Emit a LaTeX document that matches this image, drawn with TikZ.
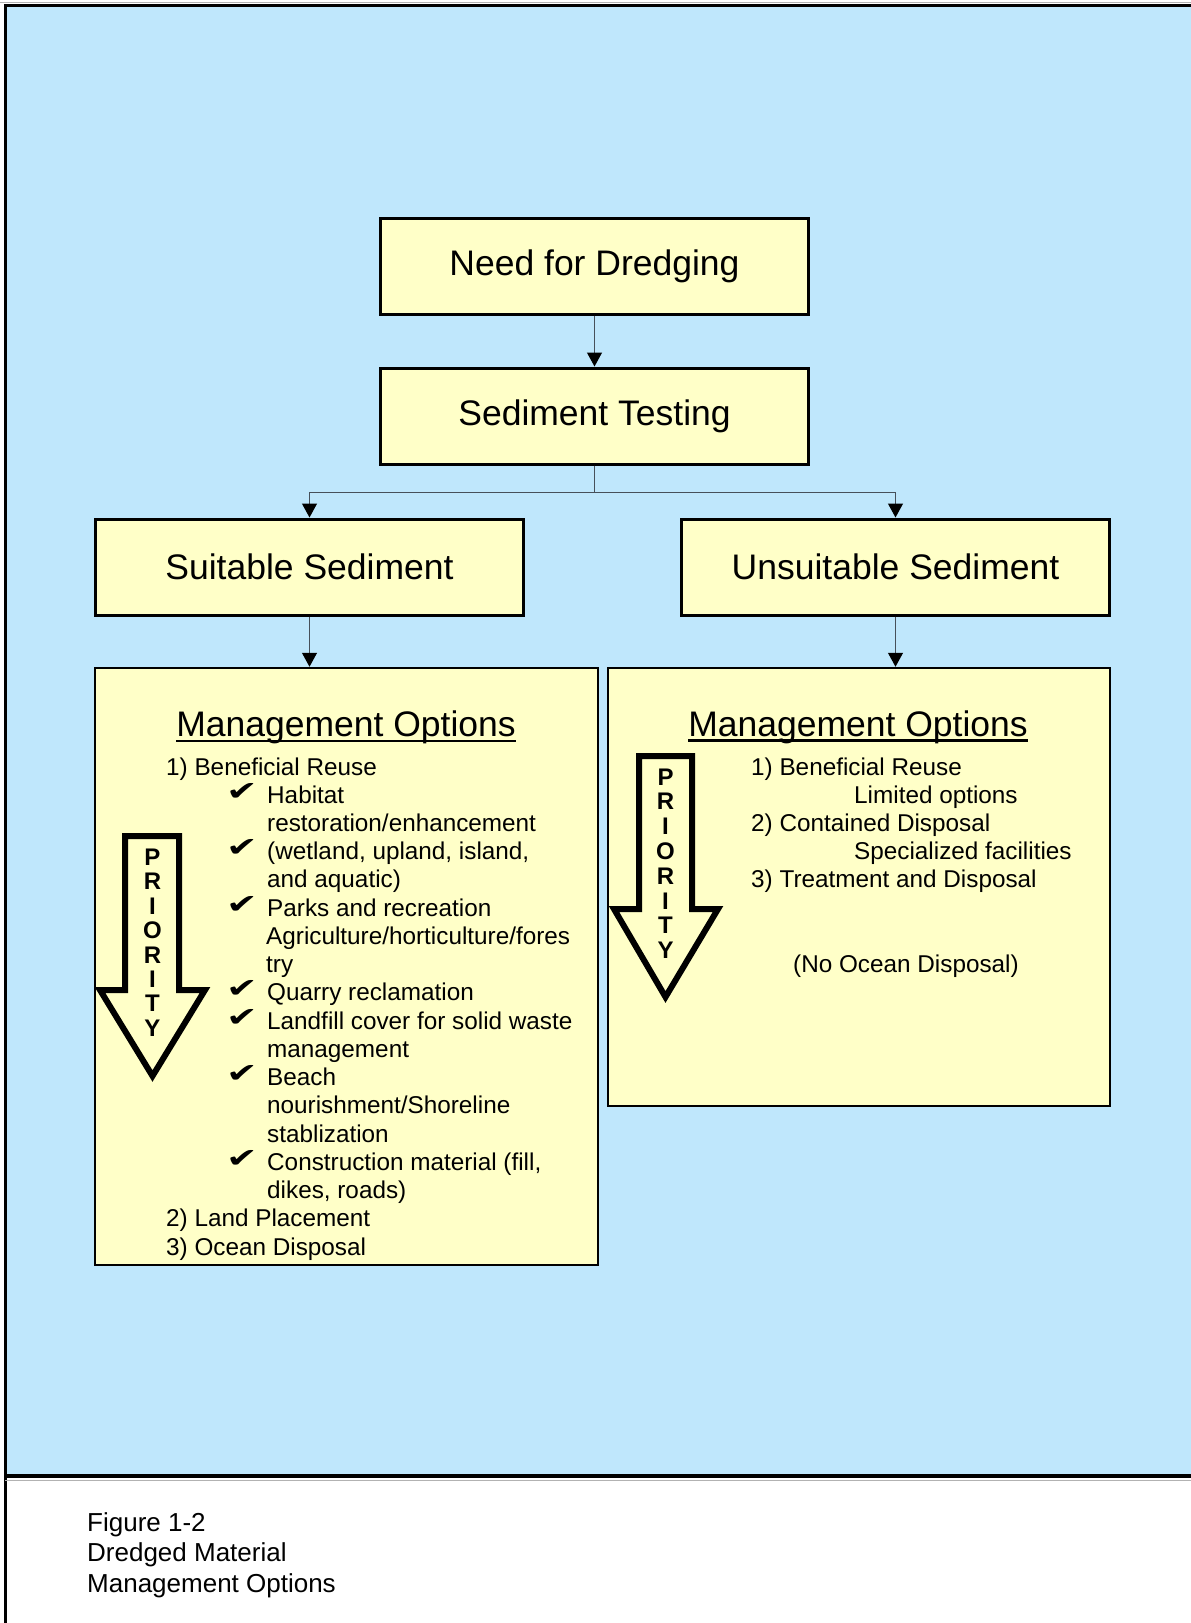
\documentclass[tikz,border=0pt]{standalone}
\usepackage{fontspec}
\usepackage{graphicx}
\setmainfont{Liberation Sans}
\newfontfamily\dejavu{DejaVu Sans}
\usetikzlibrary{arrows.meta}
\definecolor{skyfill}{RGB}{191,231,252}
\definecolor{boxfill}{RGB}{255,255,200}
\definecolor{connline}{RGB}{70,80,90}
\begin{document}
\begin{tikzpicture}[x=1pt,y=-1pt,
  titlebox/.style={draw=black, line width=3pt, fill=boxfill, minimum width=428pt, minimum height=96pt, inner sep=0pt, font=\fontsize{35.5}{42}\selectfont},
  mgbox/.style={draw=black, line width=2.5pt, fill=boxfill, inner sep=0pt},
  hdr/.style={inner sep=0pt, font=\fontsize{35.5}{42}\selectfont},
  body/.style={inner sep=0pt, anchor=base west, font=\fontsize{24.3}{28}\selectfont},
  chk/.style={inner sep=0pt, anchor=base west, font=\dejavu\fontsize{27}{28}\selectfont},
  prio/.style={inner sep=0pt, font=\bfseries\fontsize{24}{28}\selectfont},
  prioarrow/.style={draw=black, line width=6pt, line join=miter, miter limit=10},
  conn/.style={draw=connline, line width=1.2pt, -{Triangle[length=14pt,width=15pt,fill=black,color=black]}},
  captext/.style={inner sep=0pt, anchor=base west, font=\fontsize{26}{30}\selectfont}
]
\useasboundingbox (0,0) rectangle (1191,1623);
\fill[white] (0,0) rectangle (1191,1623);
% outer frame
\fill[skyfill] (5,5.5) rectangle (1200,1476);
\draw[gray!60, line width=1pt] (0,2.5) -- (1191,2.5);
\draw[black, line width=3pt] (5,1630) -- (5,5.5) -- (1200,5.5);
\draw[black, line width=3.5pt] (5,1476) -- (1200,1476);
\draw[gray!60, line width=1pt] (5,1480) -- (1191,1480);

% title boxes
\node[titlebox] (need) at (594.5,266) {Need for Dredging};
\node[titlebox] (sed) at (594.5,416) {Sediment Testing};
\node[titlebox] (suit) at (309.5,567) {Suitable Sediment};
\node[titlebox] (unsuit) at (895.5,567) {Unsuitable Sediment};

% management boxes
\node[mgbox, minimum width=503pt, minimum height=597pt] (mgL) at (346.5,966.5) {};
\node[mgbox, minimum width=502pt, minimum height=438pt] (mgR) at (859,887) {};

% connectors
\draw[conn] (need.south) -- (sed.north);
\draw[conn] (sed.south) -- ++(0,27) -| (suit.north);
\draw[conn] (sed.south) -- ++(0,27) -| (unsuit.north);
\draw[conn] (suit.south) -- (suit.south |- mgL.north);
\draw[conn] (unsuit.south) -- (unsuit.south |- mgR.north);

% headers
\node[hdr, anchor=base] (hL) at (346,736.5) {Management Options};
\draw[line width=2.2pt] ([yshift=-4.5pt]hL.base west) -- ([yshift=-4.5pt]hL.base east);
\node[hdr, anchor=base] (hR) at (858,736) {Management Options};
\draw[line width=2.2pt] ([yshift=-4.5pt]hR.base west) -- ([yshift=-4.5pt]hR.base east);

% left list
\foreach [count=\i] \xx/\txt in {
  166/{1) Beneficial Reuse},
  267/{Habitat},
  267/{restoration/enhancement},
  267/{(wetland, upland, island,},
  267/{and aquatic)},
  267/{Parks and recreation},
  266/{Agriculture/horticulture/fores},
  266/{try},
  267/{Quarry reclamation},
  267/{Landfill cover for solid waste},
  267/{management},
  267/{Beach},
  267/{nourishment/Shoreline},
  267/{stablization},
  267/{Construction material (fill,},
  267/{dikes, roads)},
  166/{2) Land Placement},
  166/{3) Ocean Disposal}}
  \node[body] (L\i) at ({\xx},{775+(\i-1)*28.24}) {\txt};
\foreach \i in {2,4,6,9,10,12,15}
  \node[chk] (C\i) at ({226},{775-3+(\i-1)*28.24}) {\scalebox{1.4}[1]{✔}};

% right list
\foreach [count=\i] \xx/\txt in {
  751/{1) Beneficial Reuse},
  854/{Limited options},
  751/{2) Contained Disposal},
  854/{Specialized facilities},
  751/{3) Treatment and Disposal}}
  \node[body] (R\i) at ({\xx},{775+(\i-1)*28.24}) {\txt};
\node[body] (R6) at (793,972) {(No Ocean Disposal)};

% priority arrows
\draw[prioarrow] (125,836) -- (179,836) -- (179,990) -- (205,990) -- (152.5,1076) -- (100,990) -- (125,990) -- cycle;
\draw[prioarrow] (639,756) -- (692,756) -- (692,909) -- (718,909) -- (665.5,997) -- (614,909) -- (639,909) -- cycle;
\foreach [count=\i] \ch in {P,R,I,O,R,I,T,Y} {
  \node[prio, anchor=base] (PL\i) at ({152.5},{865.5+(\i-1)*24.4}) {\ch};
  \node[prio, anchor=base] (PR\i) at ({665.5},{785+(\i-1)*24.8}) {\ch};
}

% caption
\node[captext] (cap1) at (87,1531) {Figure 1-2};
\node[captext] (cap2) at (87,1561.5) {Dredged Material};
\node[captext] (cap3) at (87,1592) {Management Options};
\end{tikzpicture}
\end{document}
